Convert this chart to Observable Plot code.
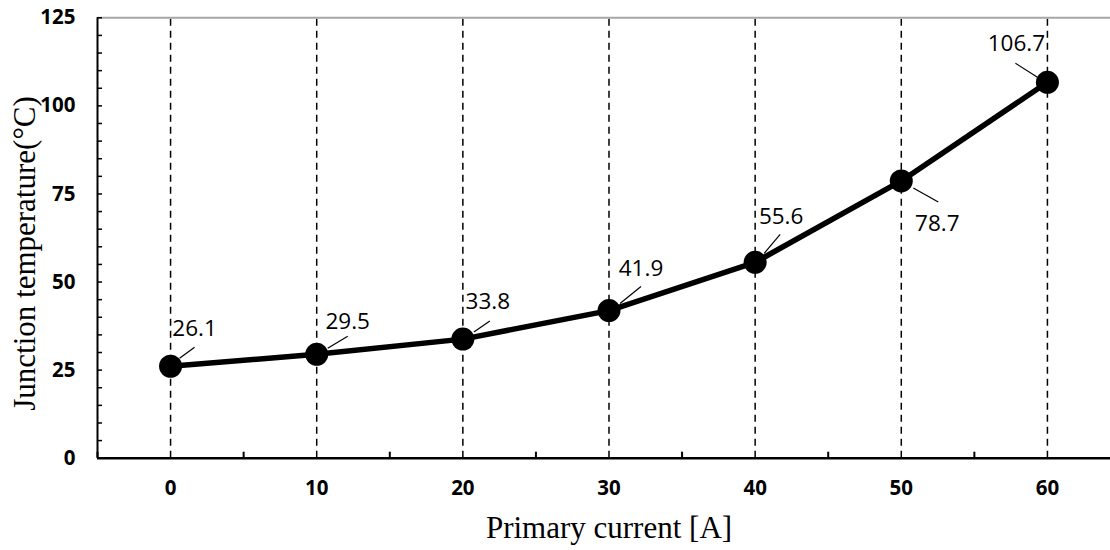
<!DOCTYPE html>
<html><head><meta charset="utf-8">
<script src="https://cdn.jsdelivr.net/npm/d3@7"></script>
<script src="https://cdn.jsdelivr.net/npm/@observablehq/plot@0.6"></script>
<style>body{margin:0;background:#fff;overflow:hidden} svg{display:block}</style>
</head><body><div id="chart"></div>
<script>
// ---- data ----
const currents = [0, 10, 20, 30, 40, 50, 60];
const temperatures = [26.1, 29.5, 33.8, 41.9, 55.6, 78.7, 106.7];
const valueLabels = ["26.1", "29.5", "33.8", "41.9", "55.6", "78.7", "106.7"];
const yTicks = [0, 25, 50, 75, 100, 125];
const yMinorTicks = [0,5,10,15,20,25,30,35,40,45,50,55,60,65,70,75,80,85,90,95,100,105,110,115,120,125];
const xBoundaries = [-5, 5, 15, 25, 35, 45, 55, 65];
const xTitle = "Primary current [A]";
const yTitle = "Junction temperature(°C)";

// ---- layout (pixel offsets of data labels and leader lines) ----
const labelOffsets = [[24,-37],[31,-32],[25,-37],[32,-42],[26,-46],[36,43],[-31,-38]];
const leaderOffsets = [
  [[9,-8],[24,-19]], [[11,-6],[31,-18]], [[11,-7],[27,-18]], [[11,-7],[32,-24]],
  [[9,-9],[25,-28]], [[12,7],[37,21]], [[-32,-19],[-10,-5]]
];

const xDomain = [-5, 65], xRange = [97, 1120];
const yDomain = [0, 125], yRange = [457.7, 17.3];
const xs = Plot.scale({x: {domain: xDomain, range: xRange}});
const ys = Plot.scale({y: {domain: yDomain, range: yRange}});

const data = currents.map((c, i) => ({current: c, temp: temperatures[i], label: valueLabels[i]}));
const leaders = data.map((d, i) => {
  const px = xs.apply(d.current), py = ys.apply(d.temp);
  const [[a1, b1], [a2, b2]] = leaderOffsets[i];
  return {x1: xs.invert(px + a1), y1: ys.invert(py + b1), x2: xs.invert(px + a2), y2: ys.invert(py + b2)};
});
const minorTickLen = xs.invert(xRange[0] + 5);
const xTickLen = ys.invert(yRange[0] - 6);

const sans = "'Open Sans', sans-serif";
const serif = "'Liberation Serif', 'Times New Roman', serif";

const chart = Plot.plot({
  width: 1110, height: 550,
  marginLeft: 97, marginRight: 0, marginTop: 17.3, marginBottom: 92.3,
  x: {domain: xDomain, range: xRange, axis: null},
  y: {domain: yDomain, range: yRange, axis: null},
  style: {background: "#fff"},
  marks: [
    Plot.ruleX(currents, {x: d => d, y1: 0, y2: 125, stroke: "#000", strokeWidth: 1.5, strokeDasharray: "7,5"}),
    Plot.ruleY([125], {stroke: "#a6a6a6", strokeWidth: 2}),
    Plot.ruleY(yMinorTicks, {y: d => d, x1: xDomain[0], x2: minorTickLen, stroke: "#000", strokeWidth: 1.5}),
    Plot.ruleX(xBoundaries, {x: d => d, y1: 0, y2: xTickLen, stroke: "#000", strokeWidth: 2}),
    Plot.ruleX([xDomain[0]], {stroke: "#000", strokeWidth: 2}),
    Plot.ruleY([0], {stroke: "#000", strokeWidth: 2.5}),
    Plot.line(data, {x: "current", y: "temp", stroke: "#000", strokeWidth: 5.5}),
    Plot.link(leaders, {x1: "x1", y1: "y1", x2: "x2", y2: "y2", stroke: "#000", strokeWidth: 1.2}),
    Plot.dot(data, {x: "current", y: "temp", r: 11.5, fill: "#000"}),
    ...data.map((d, i) => Plot.text([d], {
      x: "current", y: "temp", text: "label", dx: labelOffsets[i][0], dy: labelOffsets[i][1],
      fontSize: 22.5, fontFamily: sans, fill: "#000", textAnchor: "middle", lineAnchor: "middle"
    })),
    Plot.axisY(yTicks, {tickSize: 0, tickPadding: 22, label: null, fontSize: 20.5, fontWeight: "bold", fontFamily: sans, fill: "#000"}),
    Plot.axisX(currents, {tickSize: 0, tickPadding: 22, label: null, fontSize: 20.5, fontWeight: "bold", fontFamily: sans, fill: "#000"}),
    Plot.text([xTitle], {frameAnchor: "bottom", dx: 5, dy: 80, textAnchor: "middle", lineAnchor: "bottom", fontSize: 31, fontFamily: serif, fill: "#000"}),
    Plot.text([yTitle], {frameAnchor: "left", rotate: -90, dx: -72, dy: 15.5, textAnchor: "middle", lineAnchor: "middle", fontSize: 31, fontFamily: serif, fill: "#000"})
  ]
});
document.getElementById("chart").appendChild(chart);
</script>
</body></html>
